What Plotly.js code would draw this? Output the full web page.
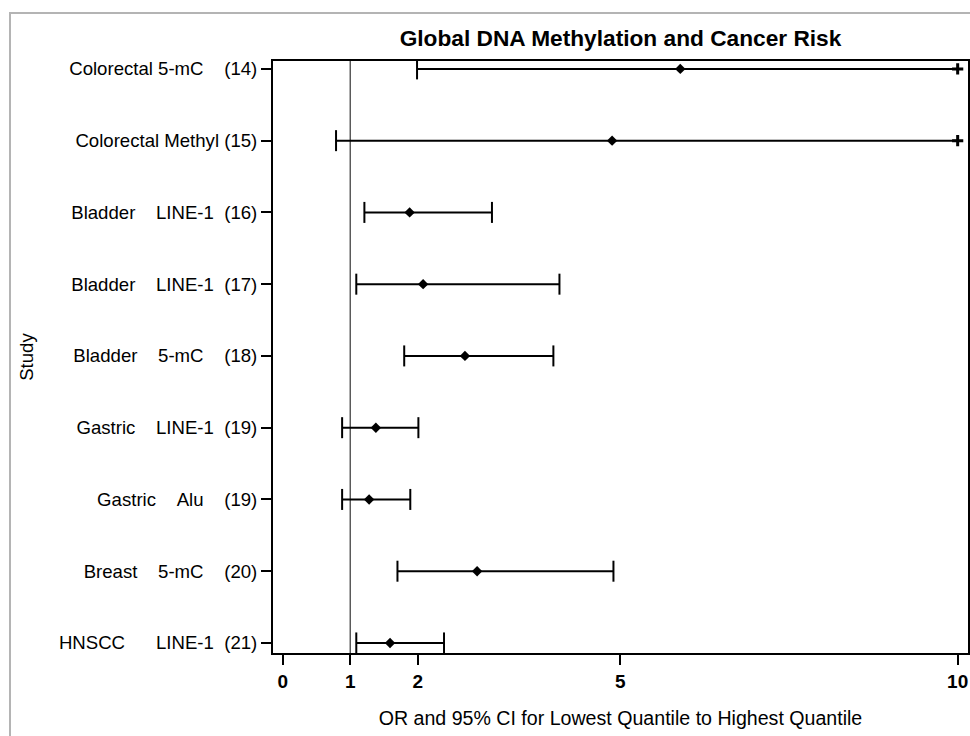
<!DOCTYPE html>
<html>
<head>
<meta charset="utf-8">
<script src="https://cdn.plot.ly/plotly-3.0.1.min.js"></script>
<style>
  html, body { margin: 0; padding: 0; background: #ffffff; }
  #wrap { position: relative; width: 970px; height: 736px; overflow: hidden; }
  #frame { position: absolute; left: 9px; top: 12px; width: 980px; height: 740px;
           border-left: 2px solid #b4b4b4; border-top: 2px solid #b4b4b4; pointer-events: none; }
  #chart { position: absolute; left: 0; top: 0; width: 970px; height: 736px; }
</style>
</head>
<body>
<div id="wrap">
  <div id="chart"></div>
  <div id="frame"></div>
</div>
<script>
// ---- data ----
var NB = '\u00A0';
function sp(n) { return NB.repeat(n); }
var studyLabels = [
  'Colorectal 5-mC' + sp(4) + '(14)',
  'Colorectal Methyl (15)',
  'Bladder' + sp(4) + 'LINE-1' + sp(2) + '(16)',
  'Bladder' + sp(4) + 'LINE-1' + sp(2) + '(17)',
  'Bladder' + sp(4) + '5-mC' + sp(4) + '(18)',
  'Gastric' + sp(4) + 'LINE-1' + sp(2) + '(19)',
  'Gastric' + sp(4) + 'Alu' + sp(4) + '(19)',
  'Breast' + sp(4) + '5-mC' + sp(4) + '(20)',
  'HNSCC' + sp(6) + 'LINE-1' + sp(2) + '(21)'
];
var rowIndex   = [1, 2, 3, 4, 5, 6, 7, 8, 9];
var oddsRatio  = [5.89, 4.88, 1.88, 2.08, 2.70, 1.38, 1.28, 2.88, 1.59];
var lowerCI    = [1.99, 0.79, 1.21, 1.09, 1.80, 0.88, 0.88, 1.70, 1.09];
var upperCI    = [10.0, 10.0, 3.10, 4.10, 4.01, 2.01, 1.89, 4.90, 2.39]; // 10 = truncated at axis max
var truncated  = [true, true, false, false, false, false, false, false, false];
var xTickVals  = [0, 1, 2, 5, 10];
var xTickText  = ['0', '1', '2', '5', '10'];
var refValue   = 1;

// ---- build traces ----
var ciX = [], ciY = [];
for (var i = 0; i < rowIndex.length; i++) {
  ciX.push(lowerCI[i], upperCI[i], null);
  ciY.push(rowIndex[i], rowIndex[i], null);
}
var capX = [], capY = [], plusX = [], plusY = [];
for (var j = 0; j < rowIndex.length; j++) {
  capX.push(lowerCI[j]); capY.push(rowIndex[j]);
  if (truncated[j]) { plusX.push(upperCI[j]); plusY.push(rowIndex[j]); }
  else { capX.push(upperCI[j]); capY.push(rowIndex[j]); }
}

var traces = [
  { type: 'scatter', mode: 'lines', x: ciX, y: ciY,
    line: { color: '#000000', width: 2 }, hoverinfo: 'skip', showlegend: false },
  { type: 'scatter', mode: 'markers', x: capX, y: capY,
    marker: { symbol: 'line-ns', size: 15, color: '#000000', line: { color: '#000000', width: 2 } },
    hoverinfo: 'skip', showlegend: false },
  { type: 'scatter', mode: 'markers', x: plusX, y: plusY,
    marker: { symbol: 'cross-thin', size: 8, color: '#000000', line: { color: '#000000', width: 3 } },
    hoverinfo: 'skip', showlegend: false },
  { type: 'scatter', mode: 'markers', x: oddsRatio, y: rowIndex,
    marker: { symbol: 'diamond', size: 8, color: '#000000', line: { width: 0 } },
    showlegend: false }
];

var font = 'Liberation Sans, Arial, Helvetica, sans-serif';
var layout = {
  width: 970, height: 736,
  margin: { l: 273, r: 2, t: 61, b: 83, pad: 0 },
  paper_bgcolor: '#ffffff', plot_bgcolor: '#ffffff',
  font: { family: font, size: 18, color: '#000000' },
  title: { text: '<b>Global DNA Methylation and Cancer Risk</b>',
           font: { family: font, size: 22.7, color: '#000000' },
           x: 0.5, xref: 'paper', xanchor: 'center', y: 1 - 38 / 736, yref: 'container', yanchor: 'middle' },
  xaxis: {
    range: [-0.144, 10.153], tickmode: 'array', tickvals: xTickVals, ticktext: xTickText,
    showgrid: false, zeroline: false, showline: true, mirror: true, linecolor: '#000000', linewidth: 2,
    ticks: 'outside', ticklen: 10, tickwidth: 2, tickcolor: '#000000',
    tickfont: { family: font, size: 19, color: '#000000', weight: 'bold' },
    title: { text: 'OR and 95% CI for Lowest Quantile to Highest Quantile',
             font: { family: font, size: 19.6, color: '#000000' }, standoff: 20 }
  },
  yaxis: {
    range: [9.14, 0.89], tickmode: 'array', tickvals: rowIndex, ticktext: studyLabels,
    showgrid: false, zeroline: false, showline: true, mirror: true, linecolor: '#000000', linewidth: 2,
    ticks: 'outside', ticklen: 10, tickwidth: 2, tickcolor: '#000000',
    tickfont: { family: font, size: 18.6, color: '#000000' },
    title: { text: 'Study', font: { family: font, size: 18.6, color: '#000000' }, standoff: 20 }
  },
  shapes: [
    { type: 'line', xref: 'x', yref: 'paper', x0: refValue, x1: refValue, y0: 0, y1: 1,
      line: { color: '#333333', width: 1.2 }, layer: 'below' }
  ]
};

Plotly.newPlot('chart', traces, layout, { displayModeBar: false, staticPlot: true });
</script>
</body>
</html>
